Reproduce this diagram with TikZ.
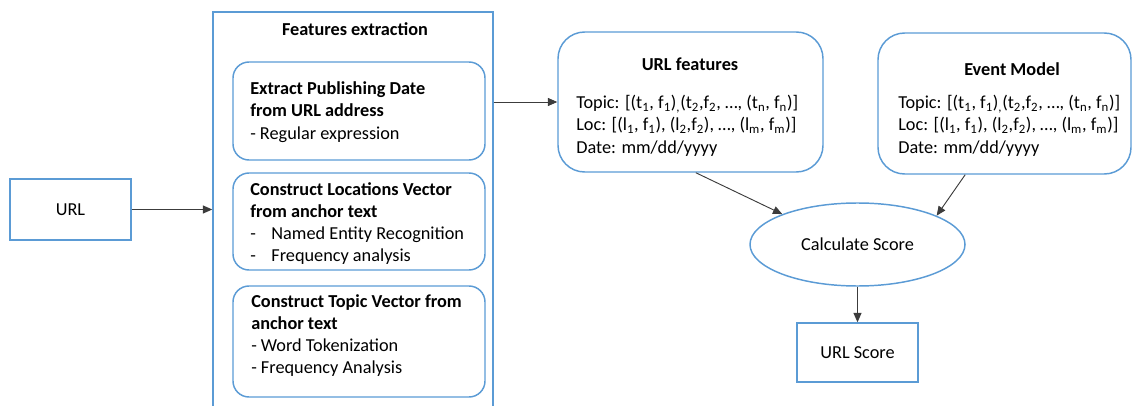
\documentclass[tikz,border=0pt]{standalone}
\usepackage{fontspec}
\setmainfont{Carlito}
\usetikzlibrary{shapes}
\usetikzlibrary{arrows.meta}
\usepackage{xcolor}

\definecolor{boxblue}{RGB}{91,155,213}
\definecolor{linegray}{RGB}{60,60,60}
\newcommand{\subidx}[1]{\textsubscript{#1}}

\tikzset{
  bluebox/.style={draw=boxblue, line width=1.1pt, inner sep=0pt},
  roundbox/.style={bluebox, rounded corners=12pt},
  biground/.style={bluebox, rounded corners=20pt},
  boxtext/.style={anchor=north west, inner sep=0pt, align=left, font=\fontsize{13.7}{16.7}\selectfont},
  flow/.style={draw=linegray, line width=0.7pt, -{Triangle[length=7pt,width=6pt]}}
}

\begin{document}
\begin{tikzpicture}[x=0.75pt,y=0.75pt,yscale=-1,xscale=1]
\useasboundingbox (0,0) rectangle (1135,406);

%Shape: Rectangle [URL]
\node (url) [bluebox, minimum width=90.75pt, minimum height=45.75pt, font=\fontsize{13.7}{16.7}\selectfont] at (70.5,209.5) {URL};

%Shape: Rectangle [features extraction, runs off the bottom]
\node (fe) [bluebox, minimum width=210pt, minimum height=306pt] at (353,216) {};
% Text Node
\node (fetitle) [anchor=base, inner sep=0pt, font=\fontsize{13.7}{16.7}\selectfont\bfseries] at (355,36) {Features extraction};

%Shape: Rounded Rect [date]
\node (date) [roundbox, minimum width=189pt, minimum height=73.5pt] at (359,111) {};
% Text Node
\node (datetext) [boxtext] at (250,81.5) {\textbf{Extract Publishing Date}\\ \textbf{from URL address}\\- Regular expression};

%Shape: Rounded Rect [locations]
\node (loc) [roundbox, minimum width=189pt, minimum height=72.75pt] at (359,221.5) {};
% Text Node
\node (loctext) [boxtext] at (250,182) {\textbf{Construct Locations Vector}\\ \textbf{from anchor text}\\-\hspace{0.85em}Named Entity Recognition\\-\hspace{0.85em}Frequency analysis};

%Shape: Rounded Rect [topic]
\node (topic) [roundbox, minimum width=189pt, minimum height=83.25pt] at (359,341.5) {};
% Text Node
\node (topictext) [boxtext] at (251,294) {\textbf{Construct Topic Vector from}\\ \textbf{anchor text}\\- Word Tokenization\\- Frequency Analysis};

%Shape: Rounded Rect [URL features]
\node (uf) [biground, minimum width=198.75pt, minimum height=105pt] at (690.5,102) {};
% Text Node
\node (uftitle) [anchor=base, inner sep=0pt, font=\fontsize{13.7}{16.7}\selectfont\bfseries] at (690,71) {URL features};
% Text Node
\node (uftext) [boxtext] at (576,95) {Topic: [(t\subidx{1}, f\subidx{1})\subidx{,}(t\subidx{2},f\subidx{2}, \dots, (t\subidx{n}, f\subidx{n})]\\Loc: [(l\subidx{1}, f\subidx{1}), (l\subidx{2},f\subidx{2}), \dots, (l\subidx{m}, f\subidx{m})]\\Date: mm/dd/yyyy};

%Shape: Rounded Rect [event model]
\node (em) [biground, minimum width=189.75pt, minimum height=105.75pt] at (1004.5,103.5) {};
% Text Node
\node (emtitle) [anchor=base, inner sep=0pt, font=\fontsize{13.7}{16.7}\selectfont\bfseries] at (1012,76) {Event Model};
% Text Node
\node (emtext) [boxtext] at (898,95) {Topic: [(t\subidx{1}, f\subidx{1})\subidx{,}(t\subidx{2},f\subidx{2}, \dots, (t\subidx{n}, f\subidx{n})]\\Loc: [(l\subidx{1}, f\subidx{1}), (l\subidx{2},f\subidx{2}), \dots, (l\subidx{m}, f\subidx{m})]\\Date: mm/dd/yyyy};

%Shape: Ellipse [score]
\node (calc) [bluebox, ellipse, minimum width=161.25pt, minimum height=62.25pt, font=\fontsize{13.7}{16.7}\selectfont] at (857.5,244.5) {Calculate Score};

%Shape: Rectangle [URL score]
\node (score) [bluebox, minimum width=90.75pt, minimum height=44.25pt, font=\fontsize{13.7}{16.7}\selectfont] at (857.5,352.5) {URL Score};

%Straight Lines
\draw [flow] (url.east) -- (url.east -| fe.west);
\draw [flow] (fe.east |- uf.west) -- (uf.west);
\draw [flow] ([xshift=4pt]uf.south) -- (calc.158);
\draw [flow] ([xshift=-29.5pt]em.south) -- (calc.20);
\draw [flow] (calc.south) -- (score.north);

\end{tikzpicture}
\end{document}
